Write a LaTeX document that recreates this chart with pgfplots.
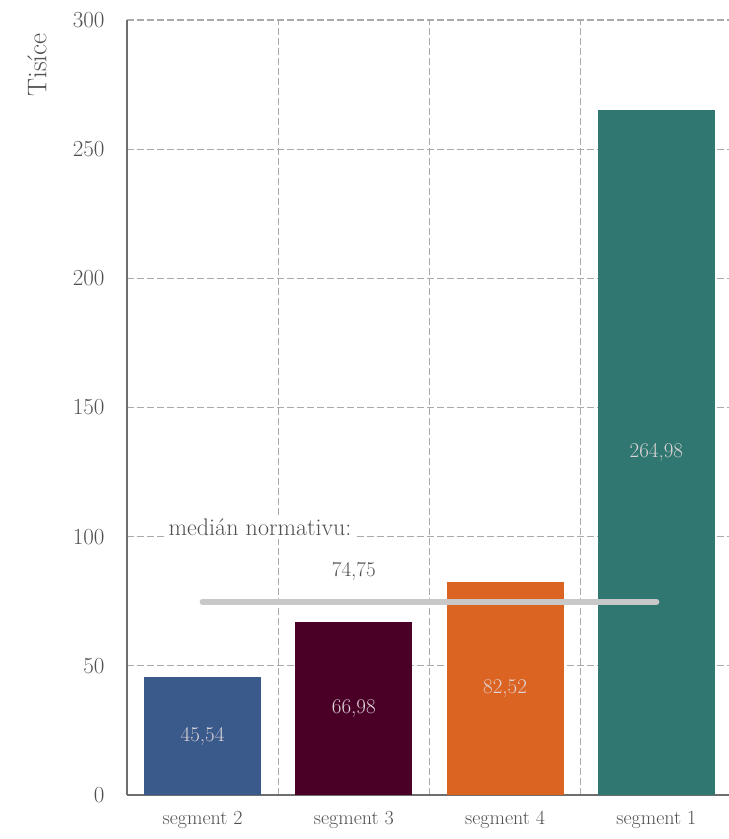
\documentclass[border=0pt]{standalone}
\usepackage{fontspec}
\setmainfont{Latin Modern Roman}
\usepackage{pgfplots}
\pgfplotsset{compat=1.18}

\definecolor{segblue}{RGB}{58,90,140}
\definecolor{segmaroon}{RGB}{74,0,38}
\definecolor{segorange}{RGB}{220,100,34}
\definecolor{segteal}{RGB}{47,119,112}
\definecolor{gridgray}{RGB}{170,170,170}
\definecolor{axisgray}{RGB}{110,110,110}
\definecolor{textgray}{RGB}{80,80,80}
\definecolor{medgray}{RGB}{200,200,200}
\definecolor{barlabel}{RGB}{222,212,214}

\begin{document}
\begin{tikzpicture}
    \useasboundingbox (-127pt,-44pt) rectangle (602pt,795pt);
    \begin{axis}[
        scale only axis,
        width=605pt, height=775pt,
        xmin=-0.5, xmax=3.5,
        ymin=0, ymax=300,
        ytick={0,50,...,300},
        xtick={0,1,2,3},
        xticklabels={segment 2, segment 3, segment 4, segment 1},
        minor xtick={0.5,1.5,2.5,3.5},
        xminorgrids, ymajorgrids,
        grid style={gridgray, line width=1.2pt, dash pattern=on 7pt off 3pt},
        minor grid style={gridgray, line width=1.2pt, dash pattern=on 7pt off 3pt},
        axis x line*=bottom, axis y line*=left,
        axis line style={axisgray, line width=1.6pt, -},
        major tick length=0pt, minor tick length=0pt,
        /pgf/number format/assume math mode=true,
        tick label style={text=textgray},
        yticklabel style={font=\fontsize{23}{25}\selectfont, xshift=-19pt},
        xticklabel style={font=\fontsize{20}{22}\selectfont, yshift=-13pt},
        ylabel={Tisíce},
        ylabel style={font=\fontsize{27}{29}\selectfont, text=textgray,
            at={(axis description cs:-0.127,0.942)}, anchor=south},
        ybar, bar width=117pt,
        visualization depends on={y/2 \as \half},
        nodes near coords,
        nodes near coords style={anchor=center, text=barlabel,
            font=\fontsize{21}{23}\selectfont,
            shift={(axis direction cs:0,-\half)},
            /pgf/number format/.cd, use comma, fixed, fixed zerofill, precision=2,
            assume math mode=true},
    ]
    \addplot[fill=segblue, draw=none, bar shift=0pt] coordinates {(0,45.54)};
    \addplot[fill=segmaroon, draw=none, bar shift=0pt] coordinates {(1,66.98)};
    \addplot[fill=segorange, draw=none, bar shift=0pt] coordinates {(2,82.52)};
    \addplot[fill=segteal, draw=none, bar shift=0pt] coordinates {(3,264.98)};

    % median line
    \addplot[sharp plot, no marks, nodes near coords={}, medgray,
        line width=6pt, line cap=round] coordinates {(0,74.75) (3,74.75)};

    \node[fill=white, inner sep=3pt, text=textgray, font=\fontsize{24}{26}\selectfont]
        at (axis cs:0.38,103.7) {medián normativu:};
    \node[fill=white, inner sep=3pt, text=textgray, font=\fontsize{21}{23}\selectfont]
        at (axis cs:1.0,86.7) {74,75};
    \end{axis}
\end{tikzpicture}
\end{document}
